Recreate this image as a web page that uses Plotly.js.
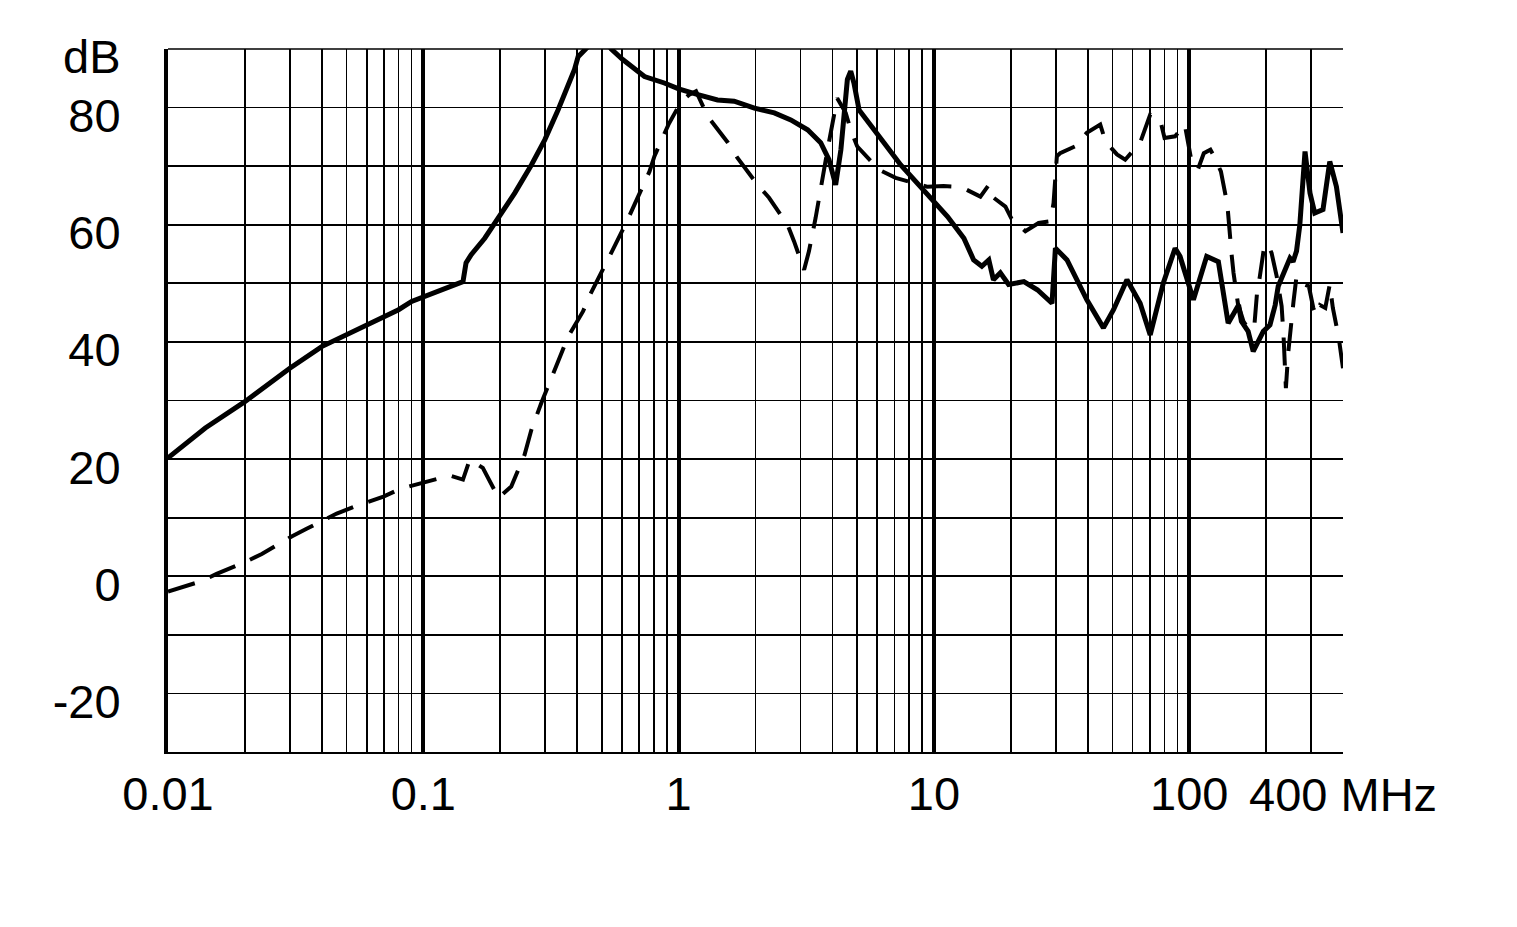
<!DOCTYPE html>
<html><head><meta charset="utf-8">
<script src="https://cdn.plot.ly/plotly-3.0.1.min.js"></script>
<style>html,body{margin:0;padding:0;background:#fff}</style>
</head><body>
<div id="chart" style="width:1517px;height:927px"></div>
<script>
// Solid curve (MHz, dB)
const solidFreq = [0.01,0.014,0.02,0.03,0.04,0.05,0.06,0.07,0.08,0.09,0.1,0.121,0.143,0.147,0.154,0.174,0.196,0.228,0.265,0.299,0.337,0.369,0.391,0.404,0.435,0.48,0.52,0.544,0.604,0.651,0.735,0.879,1.0,1.19,1.42,1.65,1.98,2.37,2.75,3.2,3.6,3.88,4.12,4.32,4.45,4.58,4.72,4.86,5.09,5.49,6.37,7.41,8.6,10,11.3,13.1,14.3,15.4,16.4,17.1,18.2,19.6,22.5,25.4,29.0,29.9,33.2,39.7,46.1,50.5,57.0,64.2,70.3,79.2,88.0,92,103.8,117,130,142,156,160,170,178,184,195,207,217,223,233,241,248,255,263,271,284,297,310,334,355,377,400];
const solidDb = [20.2,25.3,29.8,35.5,39.2,41.2,43.0,44.4,45.5,46.9,47.7,49.2,50.3,53.5,54.9,57.7,61.1,65.4,70.2,74.5,79.6,83.6,86.5,88.7,90.2,92,91.5,90,88.2,87.0,85.3,84.2,83.2,82.2,81.3,81.1,79.9,79.1,77.9,76.2,74.0,71.1,66.8,72.8,79.6,84.8,86.2,84.2,79.6,77.6,74.0,70.2,67.1,63.7,61.4,57.7,54.0,52.9,54.0,50.6,51.8,49.8,50.3,48.9,46.6,56.0,54.0,47.2,42.4,45.5,50.6,46.6,41.2,50.1,56.0,54.6,47.2,54.6,53.7,43.2,46.3,43.5,41.8,38.4,39.5,41.8,42.9,46.3,49.5,51.5,53.2,54.3,53.7,55.5,60.0,72.5,65.4,62.0,62.6,70.8,66.5,58.6];

// Dashed curve (MHz, dB)
const dashFreq = [0.01,0.0134,0.0155,0.02,0.0233,0.0305,0.0349,0.0458,0.0532,0.0698,0.081,0.109,0.127,0.143,0.152,0.171,0.197,0.221,0.249,0.265,0.29,0.369,0.422,0.447,0.513,0.552,0.632,0.676,0.769,0.804,0.912,0.99,1.03,1.1,1.17,1.3,1.56,1.7,2.04,2.26,2.67,2.83,3.1,3.24,3.44,3.83,4.06,4.18,4.51,4.72,5.0,6.09,7.08,8.3,9.4,10.9,12.0,13.4,15.2,16.4,16.9,19.05,20.2,22.8,25.7,28.6,29.4,30.3,31.2,35.8,39.7,44.8,47,52.1,56.1,64.2,70.3,76.9,80,88,96,101.5,108,114,121,125,133,141,142.5,146.5,149,155,163,172,180,184,189,197,204,210,220,230,234,237,239,244,249,256,263,275,294,306,314,325,341,355,365,385,400];
const dashDb = [-2.6,-0.9,0.4,2.4,3.8,6.8,8.1,10.7,11.8,13.6,14.9,16.5,17.2,16.5,19.9,18.5,13.4,15.3,20.7,25.0,29.6,40.9,45.2,47.8,53.2,55.7,60.9,63.7,69.1,71.7,77.1,79.9,81.1,82.2,82.8,78.5,74.0,71.4,66.8,64.6,60.0,57.2,52.3,55.5,61.2,72.8,78.5,81.6,79.1,76.2,73.4,69.4,68.0,67.1,66.5,66.6,66.5,66.0,64.8,66.8,64.8,63.1,60.9,58.9,60.3,60.6,63.7,71.7,72.2,73.4,75.7,77.1,74.2,72.0,71.1,74.0,78.8,77.9,74.8,75.1,77.1,71.4,69.4,72.2,72.8,71.7,69.1,63.4,60.6,54.9,51.8,46.6,43.5,42.0,43.0,48.1,51.2,56.6,56.4,55.2,51.2,46.1,41.0,32.2,32.1,38.1,42.6,46.9,51.2,50.0,49.5,45.8,44.6,46.3,45.8,49.8,45.8,40.7,35.5];

// Axis ticks
const xTickVals = [0.01, 0.1, 1, 10, 100];
const xTickText = ['0.01', '0.1', '1', '10', '100'];
const xEndVal = 400;
const xEndText = '400 MHz';
const yTickVals = [-30,-20,-10,0,10,20,30,40,50,60,70,80,90];
const yTickText = ['', '-20', '', '0', '', '20', '', '40', '', '60', '', '80', 'dB'];

const FONT = 'Liberation Sans, Arial, sans-serif';
const FS = 47;

// minor grid positions (2..9 within each decade up to the end value)
const minorVals = [];
xTickVals.forEach(d => { for (let m = 2; m <= 9; m++) { const v = d * m; if (v <= xEndVal * 1.0001) minorVals.push(v); } });

const traces = [
  { x: solidFreq, y: solidDb, type: 'scatter', mode: 'lines',
    line: { color: '#000', width: 5 }, hoverinfo: 'skip' },
  { x: dashFreq, y: dashDb, type: 'scatter', mode: 'lines',
    line: { color: '#000', width: 4, dash: '28px,16px' }, hoverinfo: 'skip' }
];

const layout = {
  width: 1517, height: 927,
  margin: { l: 168, r: 174, t: 49, b: 175 },
  paper_bgcolor: '#fff', plot_bgcolor: '#fff',
  showlegend: false,
  font: { family: FONT, size: FS, color: '#000' },
  xaxis: {
    type: 'log',
    range: [Math.log10(xTickVals[0]), Math.log10(xEndVal)],
    tickmode: 'array', tickvals: xTickVals, ticktext: xTickText,
    showgrid: true, gridcolor: '#000', gridwidth: 4,
    minor: { tickmode: 'array', tickvals: minorVals, showgrid: true, gridcolor: '#000', gridwidth: 1.7, ticks: '' },
    ticks: '', showline: true, linecolor: '#000', linewidth: 2,
    zeroline: false, ticklabelstandoff: 0,
    tickfont: { family: FONT, size: FS, color: '#000' }
  },
  yaxis: {
    range: [yTickVals[0], yTickVals[yTickVals.length - 1]],
    tickmode: 'array', tickvals: yTickVals, ticktext: yTickText,
    showgrid: true, gridcolor: '#000', gridwidth: 1.7,
    ticks: '', showline: true, linecolor: '#000', linewidth: 4,
    zeroline: false, ticklabelstandoff: 34, ticklabelshift: 8,
    tickfont: { family: FONT, size: FS, color: '#000' }
  },
  shapes: [
    { type: 'line', xref: 'paper', yref: 'paper', x0: 0, x1: 1, y0: 1, y1: 1,
      line: { color: '#000', width: 1.7 } }
  ],
  annotations: [
    { x: Math.log10(xEndVal), xref: 'x', y: 0, yref: 'paper', yanchor: 'top', xanchor: 'center',
      yshift: -14, text: xEndText, showarrow: false, font: { family: FONT, size: FS, color: '#000' } }
  ]
};

Plotly.newPlot('chart', traces, layout, { staticPlot: true, displayModeBar: false });
</script>
</body></html>
